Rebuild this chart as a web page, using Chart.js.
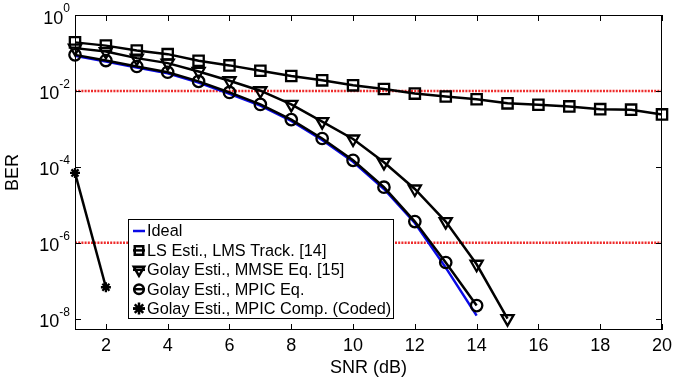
<!DOCTYPE html>
<html>
<head>
<meta charset="utf-8">
<script src="https://cdn.jsdelivr.net/npm/chart.js@4.4.1/dist/chart.umd.min.js"></script>
<style>
  body { margin: 0; background: #fff; }
  #wrap { width: 687px; height: 379px; }
</style>
</head>
<body>
<div id="wrap"><canvas id="berChart" width="687" height="379"></canvas></div>
<script>
// SNR values (dB) and BER
const snrLS    = [1,2,3,4,5,6,7,8,9,10,11,12,13,14,15,16,17,18,19,20];
const berLS    = [0.19,0.156,0.116,0.093,0.062,0.047,0.034,0.0246,0.019,0.014,0.0112,0.0085,0.0071,0.006,0.0047,0.0043,0.0039,0.0033,0.0032,0.0024];
const snrMMSE  = [1,2,3,4,5,6,7,8,9,10,11,12,13,14,15];
const berMMSE  = [0.134,0.109,0.073,0.054,0.0325,0.0185,0.0101,0.0044,0.00155,0.00054,0.000131,2.6e-5,3.6e-6,2.7e-7,1.0e-8];
const snrMPIC  = [1,2,3,4,5,6,7,8,9,10,11,12,13,14];
const berMPIC  = [0.089,0.063,0.044,0.031,0.0178,0.0091,0.0044,0.00175,0.000556,0.000148,2.9e-5,3.6e-6,3.0e-7,2.2e-8];
const berIdeal = [0.084,0.059,0.041,0.029,0.0166,0.0084,0.0041,0.00162,0.00051,0.000136,2.6e-5,3.3e-6,2.2e-7,1.2e-8];
const snrCoded = [1,2];
const berCoded = [6.9e-5,6.7e-8];

const refLevels = [1e-2, 1e-6];        // red dotted target lines
const xTicks = [2,4,6,8,10,12,14,16,18,20];
const yTicks = [1e-8,1e-6,1e-4,1e-2,1];

const FONT = "'Liberation Sans', Arial, Helvetica, sans-serif";

function pts(xs, ys) { return xs.map((x, i) => ({ x, y: ys[i] })); }

function series(label, xs, ys, style, radius, extra) {
  return Object.assign({
    label, data: pts(xs, ys), inLegend: true,
    borderColor: '#000', borderWidth: 2.5, tension: 0,
    pointStyle: style, pointRadius: radius, pointBorderWidth: 2.3,
    pointBorderColor: '#000', pointBackgroundColor: 'rgba(0,0,0,0)',
    pointHoverRadius: radius, clip: false, order: 1
  }, extra || {});
}

const datasets = [
  series('Ideal', snrMPIC, berIdeal, false, 0, { borderColor: '#0a0ae6', order: 5 }),
  series('LS Esti., LMS Track. [14]', snrLS, berLS, 'rect', 7.3),
  series('Golay Esti., MMSE Eq. [15]', snrMMSE, berMMSE, 'triangle', 7, { pointRotation: 180 }),
  series('Golay Esti., MPIC Eq.', snrMPIC, berMPIC, 'circle', 5.7, { order: 2 }),
  series('Golay Esti., MPIC Comp. (Coded)', snrCoded, berCoded, 'star', 5)
];
refLevels.forEach(v => datasets.push({
  label: 'ref', data: [{ x: 1, y: v }, { x: 20, y: v }], inLegend: false,
  borderColor: '#ee2b2b', borderWidth: 2.5, borderDash: [2, 1.2],
  pointRadius: 0, order: 10
}));

// box, inward ticks, y labels with exponents, ylabel and the legend
const decoPlugin = {
  id: 'deco',
  afterDraw(chart) {
    const ctx = chart.ctx, a = chart.chartArea;
    const xs = chart.scales.x, ys = chart.scales.y;
    ctx.save();
    ctx.strokeStyle = '#000';
    ctx.lineWidth = 1;
    ctx.strokeRect(a.left + 0.5, a.top + 0.5, a.right - a.left - 1, a.bottom - a.top - 1);
    ctx.beginPath();
    xTicks.forEach(v => {
      const px = Math.round(xs.getPixelForValue(v)) + 0.5;
      ctx.moveTo(px, a.bottom); ctx.lineTo(px, a.bottom - 6);
      ctx.moveTo(px, a.top); ctx.lineTo(px, a.top + 6);
    });
    yTicks.forEach(v => {
      const py = Math.round(ys.getPixelForValue(v)) + 0.5;
      ctx.moveTo(a.left, py); ctx.lineTo(a.left + 6, py);
      ctx.moveTo(a.right, py); ctx.lineTo(a.right - 6, py);
    });
    ctx.stroke();

    // y tick labels: 10 with a raised exponent
    ctx.fillStyle = '#000';
    ctx.textBaseline = 'alphabetic';
    yTicks.forEach(v => {
      const py = ys.getPixelForValue(v);
      const exp = String(Math.round(Math.log10(v)));
      ctx.font = '12px ' + FONT;
      const ew = ctx.measureText(exp).width;
      const right = a.left - 5;
      ctx.textAlign = 'right';
      ctx.fillText(exp, right, py - 3);
      ctx.font = '18px ' + FONT;
      ctx.fillText('10', right - ew, py + 8.5);
    });

    // y axis title
    ctx.save();
    ctx.translate(13, (a.top + a.bottom) / 2);
    ctx.rotate(-Math.PI / 2);
    ctx.textAlign = 'center';
    ctx.textBaseline = 'middle';
    ctx.font = '18px ' + FONT;
    ctx.fillText('BER', 0, 0);
    ctx.restore();

    // legend inside the axes, lower left
    const items = chart.data.datasets.filter(d => d.inLegend);
    const bx = a.left + 53, bw = 265, bh = 99, by = a.bottom - 12 - bh;
    ctx.fillStyle = '#fff';
    ctx.fillRect(bx, by, bw, bh);
    ctx.strokeStyle = '#000';
    ctx.lineWidth = 1;
    ctx.strokeRect(bx + 0.5, by + 0.5, bw, bh);
    ctx.textAlign = 'left';
    ctx.textBaseline = 'middle';
    items.forEach((d, i) => {
      const cy = by + 12 + i * 19.4;
      ctx.strokeStyle = d.borderColor;
      ctx.lineWidth = 2.5;
      ctx.beginPath();
      ctx.moveTo(bx + 5, cy); ctx.lineTo(bx + 17, cy);
      ctx.stroke();
      if (d.pointStyle) {
        ctx.fillStyle = 'rgba(0,0,0,0)';
        ctx.strokeStyle = '#000';
        Chart.helpers.drawPoint(ctx, {
          pointStyle: d.pointStyle, rotation: d.pointRotation || 0,
          radius: d.pointStyle === 'circle' ? 4.8 : 6, borderWidth: 2.3
        }, bx + 11, cy);
      }
      ctx.fillStyle = '#000';
      ctx.font = '16.3px ' + FONT;
      ctx.fillText(d.label, bx + 19, cy + 1);
    });
    ctx.restore();
  }
};

new Chart(document.getElementById('berChart'), {
  type: 'line',
  data: { datasets },
  options: {
    responsive: false,
    animation: false,
    events: [],
    layout: { padding: { top: 15, right: 25, left: 0, bottom: 0 } },
    plugins: { legend: { display: false }, tooltip: { enabled: false } },
    scales: {
      x: {
        type: 'linear', min: 1, max: 20,
        afterBuildTicks: s => { s.ticks = xTicks.map(v => ({ value: v })); },
        afterFit: s => { s.height = 49; },
        grid: { display: false, drawTicks: false },
        border: { display: false },
        ticks: { color: '#000', font: { family: FONT, size: 18 }, padding: 5, maxRotation: 0 },
        title: { display: true, text: 'SNR (dB)', color: '#000', font: { family: FONT, size: 18 }, padding: { top: 0, bottom: 0 } }
      },
      y: {
        type: 'logarithmic', min: 5e-9, max: 1,
        afterBuildTicks: s => { s.ticks = yTicks.map(v => ({ value: v })); },
        afterFit: s => { s.width = 75; },
        grid: { display: false, drawTicks: false },
        border: { display: false },
        ticks: { display: false }
      }
    }
  },
  plugins: [decoPlugin]
});
</script>
</body>
</html>
